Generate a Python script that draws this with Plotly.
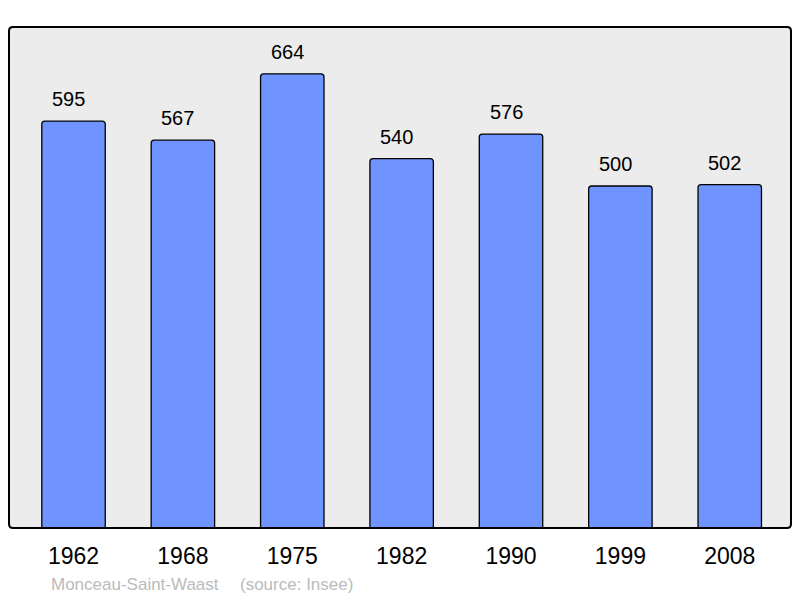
import plotly.graph_objects as go

years = ["1962", "1968", "1975", "1982", "1990", "1999", "2008"]
population = [595, 567, 664, 540, 576, 500, 502]
commune = "Monceau-Saint-Waast"
source = "(source: Insee)"

FONT = "Liberation Sans, Arial, sans-serif"

fig = go.Figure()
fig.add_trace(go.Bar(
    x=years, y=population, width=0.58,
    marker=dict(color="#7094ff", line=dict(color="#000000", width=1.3)),
    hoverinfo="skip",
))

for i, v in enumerate(population):
    fig.add_annotation(x=i, y=v, text=str(v), showarrow=False,
                       yanchor="middle", yshift=22, xshift=-5,
                       font=dict(size=20, color="#000000", family=FONT))

fig.add_annotation(xref="paper", yref="paper", x=(49-9)/782, y=-(584-528)/501,
                   xanchor="left", yanchor="middle", text=commune, showarrow=False,
                   font=dict(size=17, color="#bbbbbb", family=FONT))
fig.add_annotation(xref="paper", yref="paper", x=(238-9)/782, y=-(584-528)/501,
                   xanchor="left", yanchor="middle", text=source, showarrow=False,
                   font=dict(size=17, color="#bbbbbb", family=FONT))

# rounded frame around plot area
rx, ry = 4/782, 4/501
path = (f"M {rx},0 L {1-rx},0 Q 1,0 1,{ry} L 1,{1-ry} Q 1,1 {1-rx},1 "
        f"L {rx},1 Q 0,1 0,{1-ry} L 0,{ry} Q 0,0 {rx},0 Z")
fig.add_shape(type="path", xref="paper", yref="paper", path=path,
              line=dict(color="#000000", width=2), layer="above")

fig.update_layout(
    width=784, height=590,
    margin=dict(l=1, r=1, t=19, b=70),
    paper_bgcolor="#ffffff", plot_bgcolor="#ececec",
    barcornerradius=3,
    showlegend=False,
    font=dict(family=FONT, color="#000000"),
    xaxis=dict(type="category", range=[-0.59, 6.56], showgrid=False, zeroline=False,
               showline=False, ticks="", tickfont=dict(size=23, color="#000000"),
               ticklabelstandoff=12),
    yaxis=dict(range=[0, 732.5], showgrid=False, zeroline=False, showline=False,
               showticklabels=False, ticks=""),
)

fig.write_html("out.html")
